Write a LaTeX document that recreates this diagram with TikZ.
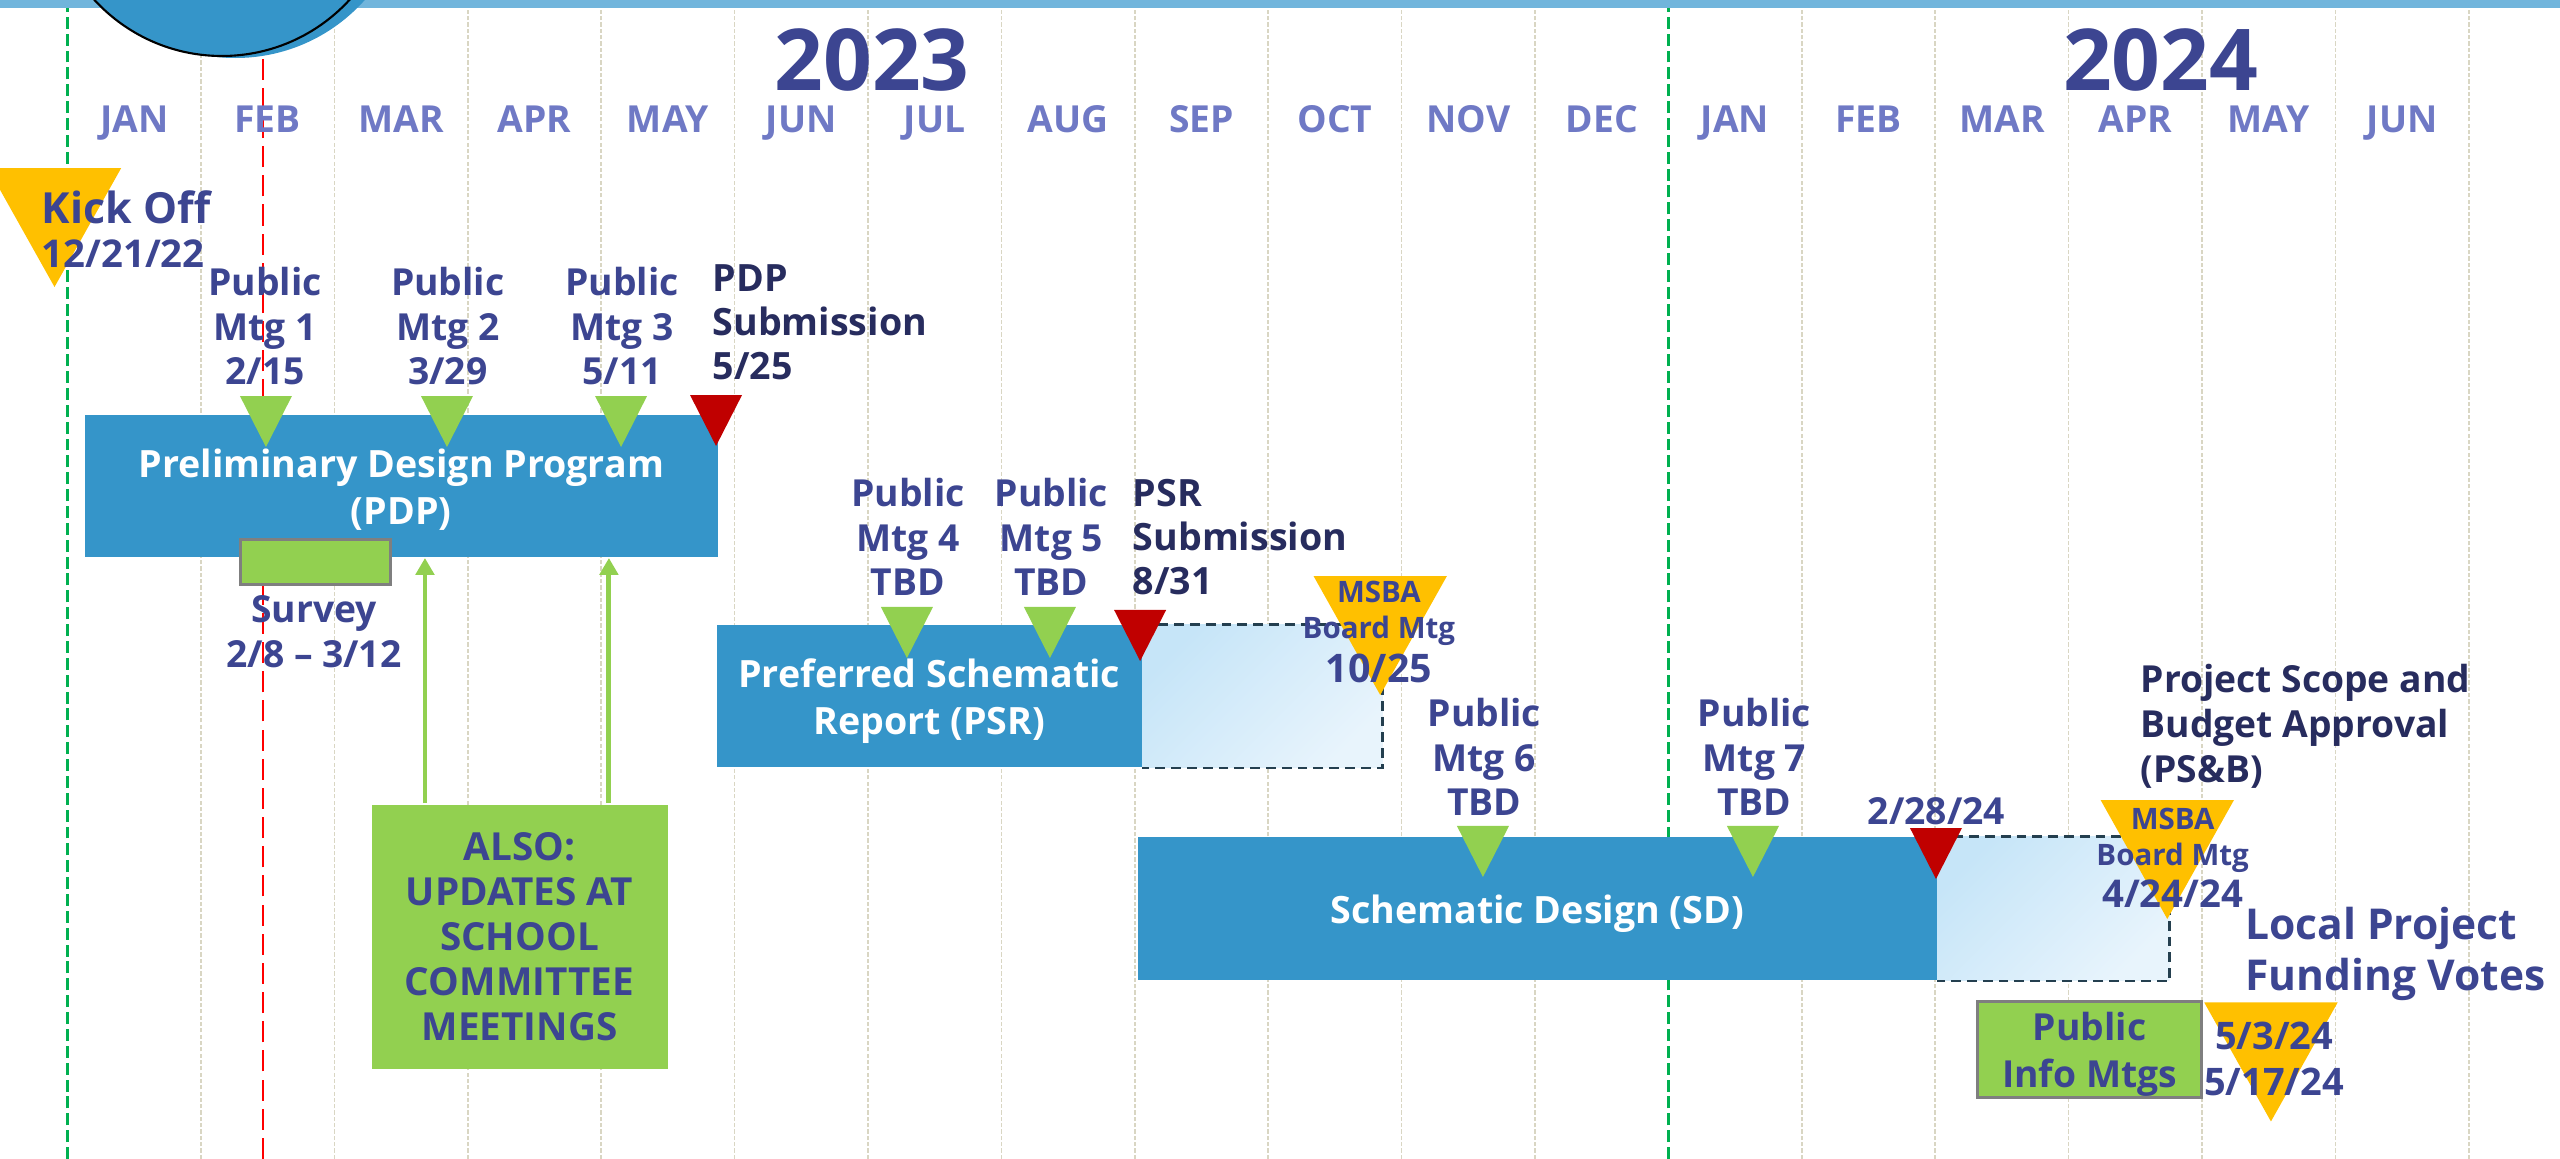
\documentclass[tikz,border=0pt]{standalone}
\usepackage{fontspec}
\setmainfont{Open Sans}
\usetikzlibrary{calc,arrows.meta}

\definecolor{barblue}{HTML}{3595C9}
\definecolor{topblue}{HTML}{71B5DC}
\definecolor{navy}{HTML}{3C4591}
\definecolor{darknavy}{HTML}{272C5E}
\definecolor{monthblue}{HTML}{6F79C5}
\definecolor{mtggreen}{HTML}{92D050}
\definecolor{msbagold}{HTML}{FFC000}
\definecolor{subred}{HTML}{C00000}
\definecolor{linered}{HTML}{FF0000}
\definecolor{yeargreen}{HTML}{00B050}
\definecolor{gridtan}{HTML}{D9D6C3}
\definecolor{slate}{HTML}{243F4F}
\definecolor{boxgray}{HTML}{7F7F7F}
\definecolor{paleA}{HTML}{C6E5F8}
\definecolor{paleB}{HTML}{E8F4FC}

\tikzset{
    lbl/.style={inner sep=0pt, text depth=0pt, text=navy, align=center,
        font=\fontsize{10.6pt}{12.6pt}\selectfont\bfseries},
    sublbl/.style={lbl, text=darknavy, align=left, anchor=west,
        font=\fontsize{10.7pt}{12.6pt}\selectfont\bfseries},
    bar/.style={fill=barblue, inner sep=0pt, text depth=0pt, text=white, align=center,
        anchor=south west, font=\fontsize{10.7pt}{13.4pt}\selectfont\bfseries},
    gbox/.style={fill=mtggreen, draw=boxgray, line width=0.85pt, inner sep=0pt,
        text depth=0pt, text=navy, align=center, anchor=south west,
        font=\fontsize{10.6pt}{13.4pt}\selectfont\bfseries},
    pend/.style={top color=paleA, bottom color=paleB, shading angle=45},
    dashedge/.style={draw=slate, line width=0.85pt, dash pattern=on 2.8pt off 1.7pt},
    monthline/.style={draw=gridtan, line width=0.45pt, dash pattern=on 1.2pt off 0.6pt},
    yearline/.style={draw=yeargreen, line width=1pt, dash pattern=on 3.4pt off 1.4pt},
    febline/.style={draw=linered, line width=0.75pt, dash pattern=on 6pt off 2.3pt},
    uparrow/.style={draw=mtggreen, line width=1.4pt, -{Triangle[width=5.2pt,length=4.8pt]}},
    smalltri/.pic={\fill (-0.195,0) -- (0.195,0) -- (0,-0.51) -- cycle;},
    bigtri/.pic={\fill (-0.5,0) -- (0.5,0) -- (0,-1.19) -- cycle;},
}

\begin{document}
\begin{tikzpicture}[x=1.334cm, y=1cm]
    \def\ytop{11.59}
    \def\yband{11.51}
    \useasboundingbox (-0.5067,0) rectangle (18.684,\ytop);

    % grid of months
    \foreach \k in {1,...,11,13,14,15,16,17,18}
        \draw[monthline] (\k,0) -- (\k,\yband);
    \draw[yearline] (0,0) -- (0,\yband);
    \draw[yearline] (12,0) -- (12,\yband);
    \draw[febline] (1.465,0) -- (1.465,\yband);

    % top band and logo
    \fill[topblue] (-0.5067,\yband) rectangle (18.684,\ytop);
    \fill[barblue] (1.259,12.74) circle[radius=1.73cm];
    \filldraw[fill=barblue, draw=black, line width=0.6pt] (1.157,12.76) circle[radius=1.73cm];

    % years and months
    \node[lbl, font=\fontsize{24.3pt}{24pt}\selectfont\bfseries] (y23) at (6.03,10.99) {2023};
    \node[lbl, font=\fontsize{24.3pt}{24pt}\selectfont\bfseries] (y24) at (15.69,10.99) {2024};
    \foreach \m [count=\i from 0] in {JAN,FEB,MAR,APR,MAY,JUN,JUL,AUG,SEP,OCT,NOV,DEC,JAN,FEB,MAR,APR,MAY,JUN}
        \node[lbl, text=monthblue] (mon\i) at (\i+0.5,10.40) {\m};

    % phases
    \node[bar, minimum width=6.33cm, minimum height=1.42cm] (pdp) at (0.123,6.01) {Preliminary Design Program\\(PDP)};
    \node[bar, minimum width=4.25cm, minimum height=1.42cm] (psr) at (4.861,3.91) {Preferred Schematic\\Report (PSR)};
    \node[bar, minimum width=7.99cm, minimum height=1.43cm] (sd) at (8.017,1.78) {Schematic Design (SD)};

    \shade[pend] (psr.north east) rectangle ($(psr.south east)+(1.8,0)$);
    \draw[dashedge] (psr.north east) -- ++(1.8,0) |- (psr.south east);
    \shade[pend] (sd.north east) rectangle ($(sd.south east)+(1.74,0)$);
    \draw[dashedge] (sd.north east) -- ++(1.74,0) |- (sd.south east);

    % survey and school committee
    \node[gbox, minimum width=1.5cm, minimum height=0.45cm] (survey) at (1.285,5.73) {};
    \node[lbl] (surveytxt) at (1.847,5.275) {Survey\\2/8 -- 3/12};
    \node[gbox, draw=none, minimum width=2.96cm, minimum height=2.64cm,
        font=\fontsize{11pt}{12.8pt}\selectfont\bfseries] (also) at (2.267,0.89)
        {ALSO:\\UPDATES AT\\SCHOOL\\COMMITTEE\\MEETINGS};
    \coordinate (up2) at ($(also.north west)+(0.412,0)$);
    \coordinate (up3) at ($(also.north west)+(1.791,0)$);
    \draw[uparrow] (up2) -- (up2 |- pdp.south);
    \draw[uparrow] (up3) -- (up3 |- pdp.south);

    \node[gbox, minimum width=2.24cm, minimum height=0.96cm] (info) at (14.306,0.60) {Public\\Info Mtgs};

    % milestones
    \pic[fill=msbagold] at (-0.098,9.91) {bigtri};
    \foreach \x in {1.487,2.844,4.149}
        \pic[fill=mtggreen] at (\x,7.63) {smalltri};
    \pic[fill=subred] at (4.861,7.64) {smalltri};
    \foreach \x in {6.292,7.364}
        \pic[fill=mtggreen] at (\x,5.52) {smalltri};
    \pic[fill=subred] at (8.04,5.49) {smalltri};
    \pic[fill=msbagold] at (9.84,5.83) {bigtri};
    \foreach \x in {10.61,12.634}
        \pic[fill=mtggreen] at (\x,3.33) {smalltri};
    \pic[fill=subred] at (14.006,3.31) {smalltri};
    \pic[fill=msbagold] at (15.74,3.59) {bigtri};
    \pic[fill=msbagold] at (16.517,1.565) {bigtri};

    % Labels
    \node[lbl, align=left, anchor=west, font=\fontsize{10.9pt}{12.7pt}\selectfont\bfseries] (kick) at (-0.199,9.30)
        {{\fontsize{12.2pt}{12.7pt}\selectfont Kick Off}\\12/21/22};
    \node[lbl] (mtg1) at (1.48,8.33) {Public\\Mtg 1\\2/15};
    \node[lbl] (mtg2) at (2.85,8.33) {Public\\Mtg 2\\3/29};
    \node[lbl] (mtg3) at (4.156,8.33) {Public\\Mtg 3\\5/11};
    \node[sublbl] (pdpsub) at (4.83,8.37) {PDP\\Submission\\5/25};
    \node[lbl] (mtg4) at (6.30,6.22) {Public\\Mtg 4\\TBD};
    \node[lbl] (mtg5) at (7.375,6.22) {Public\\Mtg 5\\TBD};
    \node[sublbl] (psrsub) at (7.98,6.22) {PSR\\Submission\\8/31};
    \node[lbl, font=\fontsize{8.4pt}{10.2pt}\selectfont\bfseries] (msba1) at (9.83,5.275)
        {MSBA\\Board Mtg\\[2.3pt]{\fontsize{11.2pt}{12pt}\selectfont 10/25}};
    \node[lbl] (mtg6) at (10.62,4.02) {Public\\Mtg 6\\TBD};
    \node[lbl] (mtg7) at (12.645,4.02) {Public\\Mtg 7\\TBD};
    \node[lbl] (sdsub) at (14.01,3.48) {2/28/24};
    \node[sublbl, font=\fontsize{10.6pt}{12.8pt}\selectfont\bfseries] (psb) at (15.535,4.36)
        {Project Scope and\\Budget Approval\\(PS\&B)};
    \node[lbl, font=\fontsize{8.4pt}{10.2pt}\selectfont\bfseries] (msba2) at (15.78,3.015)
        {MSBA\\Board Mtg\\[1.8pt]{\fontsize{10.9pt}{12pt}\selectfont 4/24/24}};
    \node[lbl, align=left, anchor=west, font=\fontsize{12.1pt}{14.5pt}\selectfont\bfseries] (local) at (16.32,2.105)
        {Local Project\\Funding Votes};
    \node[lbl, font=\fontsize{10.8pt}{13.1pt}\selectfont\bfseries] (votes) at (16.54,1.00) {5/3/24\\5/17/24};
\end{tikzpicture}
\end{document}
